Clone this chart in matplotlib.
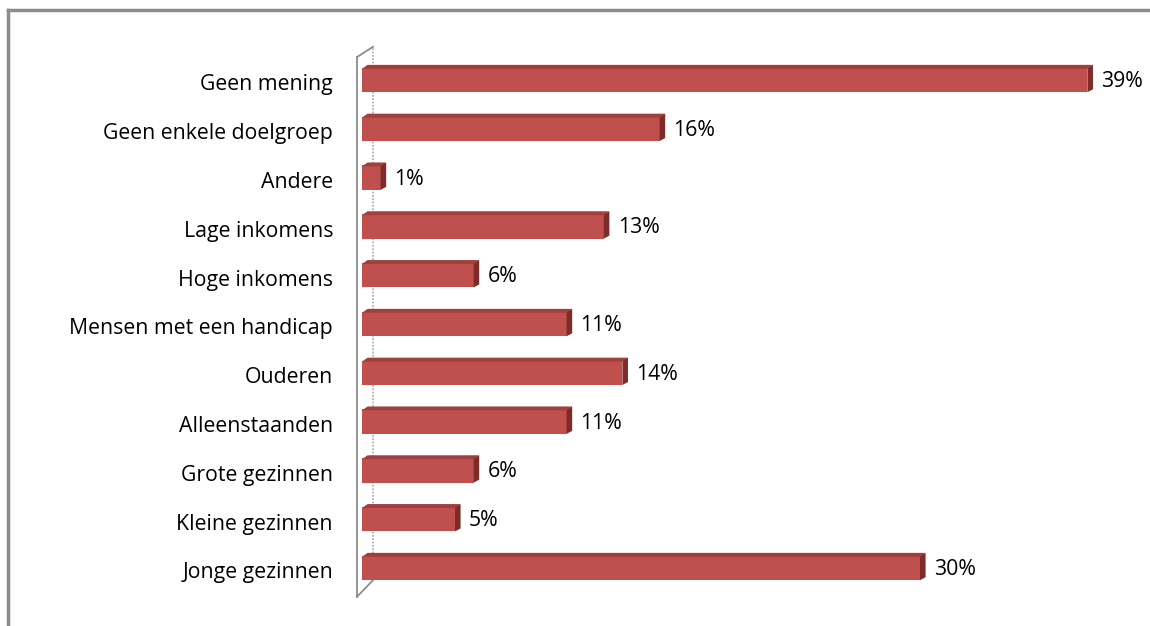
import matplotlib
matplotlib.use("Agg")
import matplotlib.pyplot as plt
from matplotlib.patches import Polygon
from matplotlib.lines import Line2D

categories = ["Jonge gezinnen", "Kleine gezinnen", "Grote gezinnen", "Alleenstaanden",
              "Ouderen", "Mensen met een handicap", "Hoge inkomens", "Lage inkomens",
              "Andere", "Geen enkele doelgroep", "Geen mening"]
values = [30, 5, 6, 11, 14, 11, 6, 13, 1, 16, 39]
labels = [f"{v}%" for v in values]

W, H = 1150, 626
fig = plt.figure(figsize=(W / 100, H / 100), dpi=100)
fig.patch.set_facecolor("white")

px_per_unit = 18.6
row = 48.8
left_px, y0_px = 362, 568
ylo, yhi = -0.6, 10.5
xmax = 42
ax = fig.add_axes([left_px / W, (H - (y0_px - ylo * row)) / H,
                   xmax * px_per_unit / W, (yhi - ylo) * row / H])
ax.set_xlim(0, xmax)
ax.set_ylim(ylo, yhi)
ax.axis("off")

font = "Open Sans"
fs = 15.3
bh = 0.5
ypos = list(range(len(categories)))
main = "#C0504D"
topc = "#A03F3C"
sidec = "#7E2C2A"
dx = 0.3   # depth in x units
dy = 0.06  # depth in y units

ax.barh(ypos, values, height=bh, color=main, zorder=3)
for y, v, lab, cat in zip(ypos, values, labels, categories):
    # right side face
    ax.add_patch(Polygon([[v, y - bh / 2], [v + dx, y - bh / 2 + dy],
                          [v + dx, y + bh / 2 + dy], [v, y + bh / 2]],
                         closed=True, color=sidec, zorder=4, lw=0))
    # top face
    ax.add_patch(Polygon([[0, y + bh / 2 - 0.02], [dx, y + bh / 2 + dy],
                          [v + dx, y + bh / 2 + dy], [v, y + bh / 2 - 0.02]],
                         closed=True, color=topc, zorder=4, lw=0))
    ax.text(v + dx + 0.45, y - 0.03, lab, va="center", ha="left", fontsize=fs,
            family=font, color="black")
    ax.text(-29 / px_per_unit, y - 0.1, cat, va="center", ha="right", fontsize=fs,
            family=font, color="black", transform=ax.transData, clip_on=False)

# 3D wall
fx = -5 / px_per_unit
bx = 11 / px_per_unit
ax.add_line(Line2D([fx, fx], [10.47, -0.59], color="#8C8C8C", lw=1.3, clip_on=False, zorder=2))
ax.add_line(Line2D([fx, bx], [-0.59, -0.25], color="#8C8C8C", lw=1.3, clip_on=False, zorder=2))
ax.add_line(Line2D([fx, bx], [10.47, 10.68], color="#8C8C8C", lw=1.3, clip_on=False, zorder=2))
ax.add_line(Line2D([bx, bx], [-0.25, 10.68], color="#A8A8A8", lw=1.2, ls=(0, (1, 1)),
                   clip_on=False, zorder=1))

# figure border (left and top)
fig.add_artist(Line2D([8 / W, 8 / W], [0, 1 - 10 / H], color="#8C8C8C", lw=2.5))
fig.add_artist(Line2D([8 / W, 1], [1 - 10 / H, 1 - 10 / H], color="#8C8C8C", lw=2.5))

fig.savefig("out.png", dpi=100)
